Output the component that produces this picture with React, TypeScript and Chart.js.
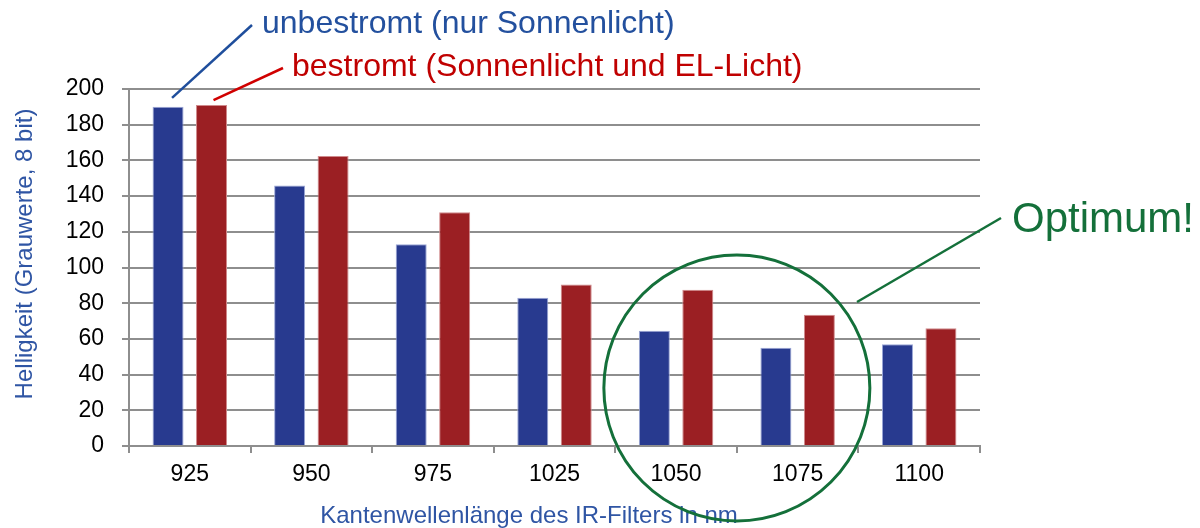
import React, { useEffect, useRef } from "react";
import { Chart, registerables } from "chart.js";

Chart.register(...registerables);

const categories = ["925", "950", "975", "1025", "1050", "1075", "1100"];
const unbestromt = [190, 146, 113, 83, 64.5, 55, 57];
const bestromt = [191, 162.5, 131, 90.5, 87.5, 73.5, 66];
const yTicks = [0, 20, 40, 60, 80, 100, 120, 140, 160, 180, 200];

const seriesNames = ["unbestromt (nur Sonnenlicht)", "bestromt (Sonnenlicht und EL-Licht)"];
const yTitle = "Helligkeit (Grauwerte, 8 bit)";
const xTitle = "Kantenwellenlänge des IR-Filters in nm";
const optimumText = "Optimum!";

const FONT = "'Liberation Sans', Arial, sans-serif";
const BLUE_BAR = "#283A8F";
const RED_BAR = "#9B1F23";
const BLUE_TEXT = "#23509E";
const RED_TEXT = "#C00000";
const GREEN = "#14703A";
const GRID = "#8E8E8E";

const annotationPlugin = {
  id: "annotations",
  afterDraw(chart: any) {
    const ctx = chart.ctx as CanvasRenderingContext2D;
    const xs = chart.scales.x;
    const ys = chart.scales.y;
    ctx.save();

    // axis titles
    ctx.fillStyle = "#2F55A4";
    ctx.font = `24px ${FONT}`;
    ctx.textAlign = "center";
    ctx.textBaseline = "middle";
    ctx.fillText(xTitle, 529, 516);
    ctx.save();
    ctx.translate(25, 254);
    ctx.rotate(-Math.PI / 2);
    ctx.fillText(yTitle, 0, 0);
    ctx.restore();

    // series callouts
    const blueBar = chart.getDatasetMeta(0).data[0];
    const redBar = chart.getDatasetMeta(1).data[0];
    ctx.lineWidth = 2.5;
    ctx.strokeStyle = "#1F4E9C";
    ctx.beginPath();
    ctx.moveTo(blueBar.x + 4, blueBar.y - 9);
    ctx.lineTo(252, 25);
    ctx.stroke();
    ctx.strokeStyle = "#D00000";
    ctx.beginPath();
    ctx.moveTo(redBar.x + 2, redBar.y - 5);
    ctx.lineTo(283, 68);
    ctx.stroke();

    ctx.textAlign = "left";
    ctx.textBaseline = "alphabetic";
    ctx.font = `32px ${FONT}`;
    ctx.fillStyle = BLUE_TEXT;
    ctx.fillText(seriesNames[0], 262, 33);
    ctx.fillStyle = RED_TEXT;
    ctx.fillText(seriesNames[1], 292, 76);

    // optimum circle
    const cx = (xs.getPixelForValue(4) + xs.getPixelForValue(5)) / 2;
    const cy = ys.getPixelForValue(32.5);
    ctx.strokeStyle = GREEN;
    ctx.lineWidth = 3;
    ctx.beginPath();
    ctx.arc(cx, cy, 133, 0, Math.PI * 2);
    ctx.stroke();

    ctx.lineWidth = 2.5;
    ctx.beginPath();
    ctx.moveTo(857, 302);
    ctx.lineTo(1001, 218);
    ctx.stroke();

    ctx.fillStyle = GREEN;
    ctx.font = `42px ${FONT}`;
    ctx.fillText(optimumText, 1012, 232);

    ctx.restore();
  },
};

export default function App() {
  const ref = useRef<HTMLCanvasElement | null>(null);

  useEffect(() => {
    if (!ref.current) return;
    const chart = new Chart(ref.current, {
      type: "bar",
      data: {
        labels: categories,
        datasets: [
          {
            label: seriesNames[0],
            data: unbestromt,
            backgroundColor: BLUE_BAR,
            borderColor: "#9AA6D6",
            borderWidth: 1,
            categoryPercentage: 0.715,
            barPercentage: 0.713,
          },
          {
            label: seriesNames[1],
            data: bestromt,
            backgroundColor: RED_BAR,
            borderColor: "#D08A8C",
            borderWidth: 1,
            categoryPercentage: 0.715,
            barPercentage: 0.713,
          },
        ],
      },
      options: {
        animation: false,
        responsive: false,
        maintainAspectRatio: false,
        layout: { padding: { left: 0, right: 220, top: 89, bottom: 0 } },
        plugins: {
          legend: { display: false },
          tooltip: { enabled: false },
          title: { display: false },
        },
        scales: {
          x: {
            afterFit(scale: any) {
              scale.height = 82;
            },
            grid: {
              offset: true,
              drawOnChartArea: false,
              drawTicks: true,
              tickLength: 7,
              color: GRID,
              lineWidth: 2,
            },
            border: { display: true, color: GRID, width: 2 },
            ticks: {
              color: "#000",
              font: { family: FONT, size: 23 },
              padding: 8,
              maxRotation: 0,
            },
          },
          y: {
            min: 0,
            max: 200,
            afterFit(scale: any) {
              scale.width = 129;
            },
            afterBuildTicks(scale: any) {
              scale.ticks = yTicks.map((v) => ({ value: v }));
            },
            grid: {
              color: GRID,
              lineWidth: 2,
              tickLength: 7,
            },
            border: { display: true, color: GRID, width: 2 },
            ticks: {
              color: "#000",
              font: { family: FONT, size: 23 },
              padding: 18,
            },
          },
        },
      },
      plugins: [annotationPlugin],
    });
    return () => chart.destroy();
  }, []);

  return (
    <div style={{ position: "fixed", left: 0, top: 0, width: 1200, height: 528, background: "#fff" }}>
      <canvas ref={ref} width={1200} height={528} style={{ width: 1200, height: 528 }} />
    </div>
  );
}
